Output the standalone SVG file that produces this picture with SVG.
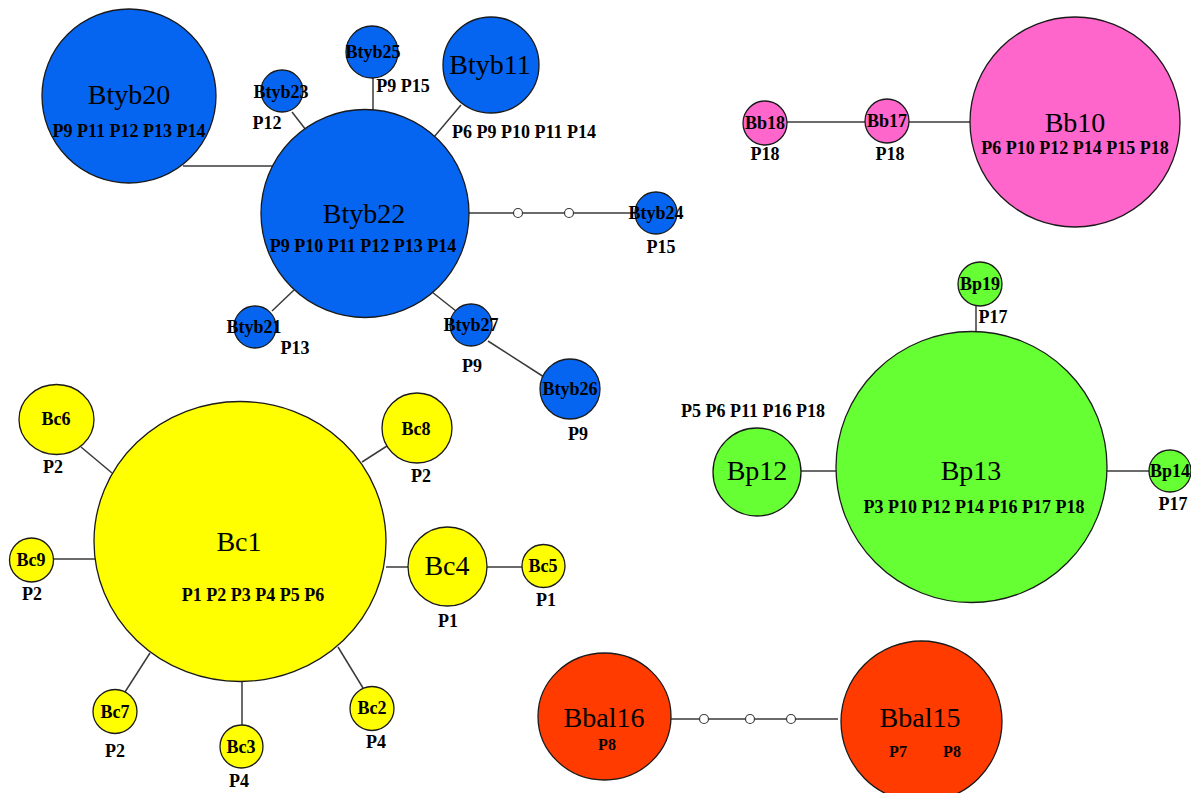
<svg xmlns="http://www.w3.org/2000/svg" width="1191" height="793" viewBox="0 0 1191 793" font-family="'Liberation Serif', 'DejaVu Serif', serif">
  <style>
    .edge { stroke: #3a3a3a; stroke-width: 1.5; fill: none; }
    .mv { fill: #ffffff; stroke: #3a3a3a; stroke-width: 1.2; }
    .node { stroke: #1a1a1a; stroke-width: 1.3; }
    .blue { fill: #0565f0; }
    .pink { fill: #ff66cc; }
    .green { fill: #66ff33; }
    .yellow { fill: #ffff00; }
    .red { fill: #ff3b00; }
    text { font-family: 'Liberation Serif', 'DejaVu Serif', serif; fill: #000; text-anchor: middle; }
    .big { font-size: 28px; }
    .sm { font-size: 18px; font-weight: bold; }
    .pop { font-size: 18px; font-weight: bold; }
    .pop16 { font-size: 16px; font-weight: bold; }
  </style>
  <rect width="1191" height="793" fill="#ffffff"/>

  <!-- connectors -->
  <g id="connectors">
    <!-- Btyb cluster -->
    <line class="edge" x1="183" y1="166" x2="272" y2="166"/>
    <line class="edge" x1="292" y1="112" x2="306" y2="130"/>
    <line class="edge" x1="373" y1="78" x2="373" y2="113"/>
    <line class="edge" x1="461" y1="105" x2="434" y2="137"/>
    <line class="edge" x1="469" y1="213" x2="636" y2="213"/>
    <circle class="mv" cx="518" cy="213" r="4.5"/>
    <circle class="mv" cx="569" cy="213" r="4.5"/>
    <line class="edge" x1="272" y1="311" x2="294" y2="290"/>
    <line class="edge" x1="432" y1="292" x2="456" y2="311"/>
    <line class="edge" x1="488" y1="341" x2="544" y2="377"/>
    <!-- Bb cluster -->
    <line class="edge" x1="787" y1="122" x2="865" y2="122"/>
    <line class="edge" x1="909" y1="122" x2="971" y2="122"/>
    <!-- Bp cluster -->
    <line class="edge" x1="976" y1="306" x2="976" y2="331"/>
    <line class="edge" x1="801" y1="471" x2="836" y2="471"/>
    <line class="edge" x1="1107" y1="471" x2="1149" y2="471"/>
    <!-- Bc cluster -->
    <line class="edge" x1="81" y1="447" x2="112" y2="473"/>
    <line class="edge" x1="362" y1="462" x2="387" y2="446"/>
    <line class="edge" x1="53" y1="559" x2="95" y2="559"/>
    <line class="edge" x1="386" y1="567" x2="408" y2="567"/>
    <line class="edge" x1="487" y1="567" x2="522" y2="567"/>
    <line class="edge" x1="125" y1="692" x2="150" y2="653"/>
    <line class="edge" x1="242" y1="681" x2="242" y2="725"/>
    <line class="edge" x1="338" y1="647" x2="363" y2="688"/>
    <!-- Bbal cluster -->
    <line class="edge" x1="671" y1="719" x2="838" y2="719"/>
    <circle class="mv" cx="704" cy="719" r="4.5"/>
    <circle class="mv" cx="750" cy="719" r="4.5"/>
    <circle class="mv" cx="791" cy="719" r="4.5"/>
  </g>

  <!-- Btyb haplotypes -->
  <g id="Btyb20">
    <circle class="node blue" cx="129" cy="96" r="87"/>
    <text class="big" x="129" y="104">Btyb20</text>
    <text class="pop" x="129" y="137">P9 P11 P12 P13 P14</text>
  </g>
  <g id="Btyb23">
    <circle class="node blue" cx="282" cy="91" r="21"/>
    <text class="sm" x="281" y="98">Btyb23</text>
    <text class="pop" x="267" y="129">P12</text>
  </g>
  <g id="Btyb25">
    <circle class="node blue" cx="372" cy="52" r="26"/>
    <text class="sm" x="373" y="58">Btyb25</text>
    <text class="pop" x="403" y="92">P9 P15</text>
  </g>
  <g id="Btyb11">
    <circle class="node blue" cx="491" cy="65" r="48"/>
    <text class="big" x="490" y="74">Btyb11</text>
    <text class="pop" x="524" y="138">P6 P9 P10 P11 P14</text>
  </g>
  <g id="Btyb22">
    <circle class="node blue" cx="365" cy="213.5" r="104"/>
    <text class="big" x="364" y="223">Btyb22</text>
    <text class="pop" x="363" y="252">P9 P10 P11 P12 P13 P14</text>
  </g>
  <g id="Btyb24">
    <circle class="node blue" cx="656" cy="213" r="21"/>
    <text class="sm" x="656" y="219">Btyb24</text>
    <text class="pop" x="661" y="253">P15</text>
  </g>
  <g id="Btyb21">
    <circle class="node blue" cx="255" cy="327" r="21"/>
    <text class="sm" x="254" y="333">Btyb21</text>
    <text class="pop" x="295" y="354">P13</text>
  </g>
  <g id="Btyb27">
    <circle class="node blue" cx="471" cy="325" r="21"/>
    <text class="sm" x="471" y="331">Btyb27</text>
    <text class="pop" x="472" y="372">P9</text>
  </g>
  <g id="Btyb26">
    <circle class="node blue" cx="570" cy="389" r="30"/>
    <text class="sm" x="570" y="395">Btyb26</text>
    <text class="pop" x="578" y="440">P9</text>
  </g>

  <!-- Bb haplotypes -->
  <g id="Bb18">
    <circle class="node pink" cx="765" cy="123" r="22"/>
    <text class="sm" x="765" y="129">Bb18</text>
    <text class="pop" x="765" y="160">P18</text>
  </g>
  <g id="Bb17">
    <circle class="node pink" cx="887" cy="121" r="22"/>
    <text class="sm" x="887" y="127">Bb17</text>
    <text class="pop" x="890" y="160">P18</text>
  </g>
  <g id="Bb10">
    <circle class="node pink" cx="1075" cy="122" r="105"/>
    <text class="big" x="1075" y="132">Bb10</text>
    <text class="pop" x="1075" y="154">P6 P10 P12 P14 P15 P18</text>
  </g>

  <!-- Bp haplotypes -->
  <g id="Bp19">
    <circle class="node green" cx="980" cy="284" r="22"/>
    <text class="sm" x="980" y="290">Bp19</text>
    <text class="pop" x="993" y="323">P17</text>
  </g>
  <g id="Bp13">
    <circle class="node green" cx="971.5" cy="467" r="135.5"/>
    <text class="big" x="971" y="480">Bp13</text>
    <text class="pop" x="974" y="513">P3 P10 P12 P14 P16 P17 P18</text>
  </g>
  <g id="Bp12">
    <circle class="node green" cx="757" cy="472" r="44"/>
    <text class="big" x="757" y="480">Bp12</text>
    <text class="pop" x="753" y="417">P5 P6 P11 P16 P18</text>
  </g>
  <g id="Bp14">
    <circle class="node green" cx="1170" cy="471" r="21"/>
    <text class="sm" x="1170" y="477">Bp14</text>
    <text class="pop" x="1173" y="510">P17</text>
  </g>

  <!-- Bc haplotypes -->
  <g id="Bc1">
    <ellipse class="node yellow" cx="240" cy="541.5" rx="146" ry="140"/>
    <text class="big" x="239" y="551">Bc1</text>
    <text class="pop" x="253" y="601">P1 P2 P3 P4 P5 P6</text>
  </g>
  <g id="Bc6">
    <ellipse class="node yellow" cx="56.5" cy="419.5" rx="37.5" ry="35"/>
    <text class="sm" x="56" y="425">Bc6</text>
    <text class="pop" x="53" y="473">P2</text>
  </g>
  <g id="Bc8">
    <circle class="node yellow" cx="417" cy="428" r="35"/>
    <text class="sm" x="416" y="435">Bc8</text>
    <text class="pop" x="421" y="482">P2</text>
  </g>
  <g id="Bc9">
    <circle class="node yellow" cx="31.5" cy="560" r="22"/>
    <text class="sm" x="31" y="566">Bc9</text>
    <text class="pop" x="32" y="600">P2</text>
  </g>
  <g id="Bc4">
    <circle class="node yellow" cx="447.5" cy="566.5" r="39.5"/>
    <text class="big" x="447" y="575">Bc4</text>
    <text class="pop" x="448" y="627">P1</text>
  </g>
  <g id="Bc5">
    <circle class="node yellow" cx="543.5" cy="566" r="21.5"/>
    <text class="sm" x="543" y="572">Bc5</text>
    <text class="pop" x="546" y="606">P1</text>
  </g>
  <g id="Bc7">
    <circle class="node yellow" cx="115" cy="711.5" r="22"/>
    <text class="sm" x="115" y="718">Bc7</text>
    <text class="pop" x="115" y="757">P2</text>
  </g>
  <g id="Bc3">
    <circle class="node yellow" cx="241.5" cy="746.5" r="21.5"/>
    <text class="sm" x="241" y="753">Bc3</text>
    <text class="pop" x="239" y="787">P4</text>
  </g>
  <g id="Bc2">
    <circle class="node yellow" cx="372" cy="708.5" r="22"/>
    <text class="sm" x="372" y="714">Bc2</text>
    <text class="pop" x="376" y="748">P4</text>
  </g>

  <!-- Bbal haplotypes -->
  <g id="Bbal16">
    <ellipse class="node red" cx="604.5" cy="716.5" rx="66.5" ry="63.5"/>
    <text class="big" x="604" y="727">Bbal16</text>
    <text class="pop16" x="607" y="750">P8</text>
  </g>
  <g id="Bbal15">
    <circle class="node red" cx="921.5" cy="721.5" r="80.5"/>
    <text class="big" x="920" y="727">Bbal15</text>
    <text class="pop16" x="898" y="757">P7</text>
    <text class="pop16" x="952" y="757">P8</text>
  </g>
</svg>
